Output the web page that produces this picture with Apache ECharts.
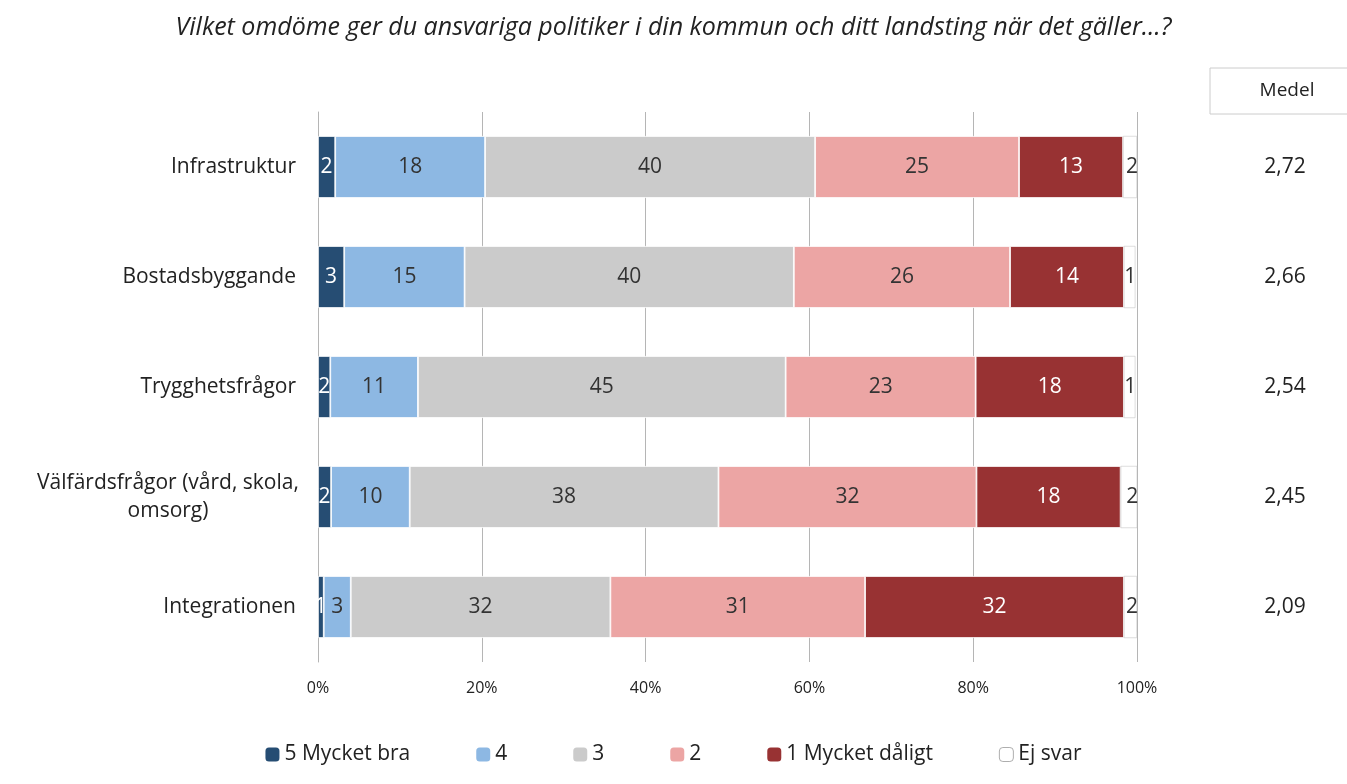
<!DOCTYPE html>
<html>
<head>
<meta charset="utf-8">
<script src="https://cdn.jsdelivr.net/npm/echarts@6/dist/echarts.min.js"></script>
<style>
  html, body { margin: 0; padding: 0; background: #fff; }
  #main { width: 1347px; height: 784px; }
</style>
</head>
<body>
<div id="main"></div>
<script>
var categories = ['Infrastruktur', 'Bostadsbyggande', 'Trygghetsfrågor', 'Välfärdsfrågor (vård, skola,\nomsorg)', 'Integrationen'];
var medel = ['2,72', '2,66', '2,54', '2,45', '2,09'];
var seriesNames = ['5 Mycket bra', '4', '3', '2', '1 Mycket dåligt', 'Ej svar'];
var v5 = [2.1, 3.2, 1.5, 1.6, 0.7];
var v4 = [18.3, 14.7, 10.7, 9.6, 3.3];
var v3 = [40.3, 40.2, 44.9, 37.7, 31.7];
var v2 = [24.9, 26.4, 23.2, 31.5, 31.1];
var v1 = [12.7, 13.9, 18.1, 17.6, 31.6];
var vEj = [1.7, 1.4, 1.4, 2.1, 1.6];
var xTicks = [0, 20, 40, 60, 80, 100];

var colors = ['#264d73', '#8db8e3', '#cbcbcb', '#eca5a4', '#983233', '#ffffff'];
var labelColors = ['#fff', '#333', '#333', '#333', '#fff', '#333'];
var allValues = [v5, v4, v3, v2, v1, vEj];
var font = '"Open Sans", Lato, sans-serif';

var series = allValues.map(function (vals, i) {
  return {
    name: seriesNames[i],
    type: 'bar',
    stack: 'total',
    barWidth: 62,
    data: vals,
    itemStyle: {
      color: colors[i],
      borderColor: i === 5 ? '#bbb' : '#fff',
      borderWidth: i === 5 ? 0.5 : 0.8
    },
    label: {
      show: true,
      position: i === 5 ? 'insideRight' : 'inside',
      distance: i === 5 ? -1 : 5,
      color: labelColors[i],
      fontSize: 21,
      fontFamily: font,
      formatter: function (p) { return Math.round(p.value); }
    },
    emphasis: { disabled: true }
  };
});

var myChart = echarts.init(document.getElementById('main'));
var option = {
  animation: false,
  title: {
    text: 'Vilket omdöme ger du ansvariga politiker i din kommun och ditt landsting när det gäller…?',
    left: 'center',
    top: 10,
    textStyle: { fontStyle: 'italic', fontWeight: 'normal', fontSize: 25, color: '#222', fontFamily: font }
  },
  legend: {
    bottom: 14,
    left: 'center',
    itemWidth: 14,
    itemHeight: 14,
    itemGap: 66,
    data: seriesNames.map(function (n) { return { name: n, itemStyle: { borderColor: '#999', borderWidth: n === 'Ej svar' ? 0.8 : 0 } }; }),
    textStyle: { fontSize: 21, color: '#222', fontFamily: font }
  },
  grid: { left: 318, right: 210, top: 112, bottom: 122 },
  xAxis: {
    type: 'value',
    min: 0,
    max: 100,
    interval: 20,
    axisLabel: { formatter: '{value}%', fontSize: 16, color: '#222', fontFamily: font, margin: 18 },
    splitLine: { lineStyle: { color: '#b5b5b5' } },
    axisLine: { show: false },
    axisTick: { show: false }
  },
  yAxis: [{
    type: 'category',
    data: categories,
    inverse: true,
    axisLine: { show: true, lineStyle: { color: '#b5b5b5' } },
    axisTick: { show: false },
    axisLabel: {
      fontSize: 21, color: '#222', fontFamily: font, margin: 22,
      formatter: function (v) { return v.indexOf('\n') >= 0 ? '{c|' + v + '}' : v; },
      rich: { c: { width: 256, align: 'center', fontSize: 21, lineHeight: 28, color: '#222', fontFamily: font } }
    }
  }, {
    type: 'category',
    data: medel,
    inverse: true,
    position: 'right',
    axisLine: { show: false },
    axisTick: { show: false },
    axisLabel: { fontSize: 21, color: '#222', fontFamily: font, margin: 148, align: 'center' }
  }],
  graphic: [{
    type: 'rect',
    shape: { x: 1210, y: 68, width: 150, height: 46 },
    style: { fill: '#fff', stroke: '#ccc', lineWidth: 1 }
  }, {
    type: 'text',
    x: 1287, y: 91,
    style: { text: 'Medel', fontSize: 19, fill: '#222', fontFamily: font, align: 'center', verticalAlign: 'middle' }
  }],
  series: series
};
myChart.setOption(option);
</script>
</body>
</html>
